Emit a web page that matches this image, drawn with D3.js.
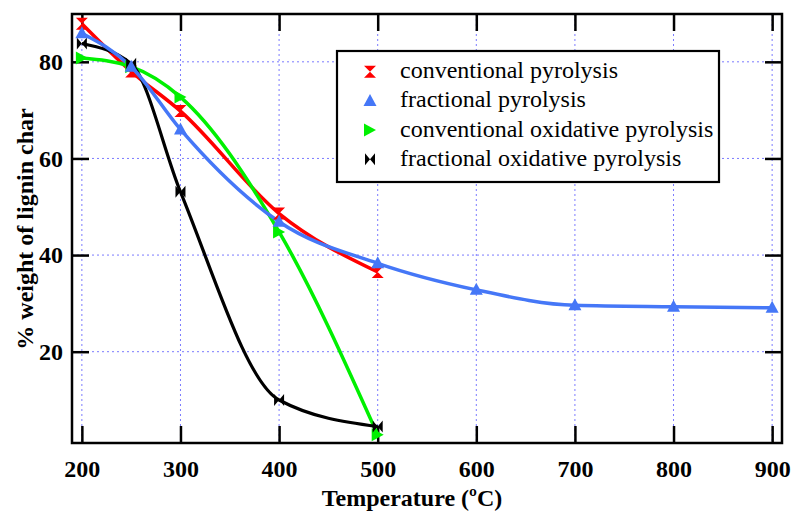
<!DOCTYPE html>
<html>
<head>
<meta charset="utf-8">
<script src="https://cdn.jsdelivr.net/npm/d3@7"></script>
<style>
  html, body { margin: 0; padding: 0; background: #fff; }
  svg { display: block; }
</style>
</head>
<body>
<svg id="chart" width="793" height="517"></svg>
<script>
// ---- data ----
const temps = [200, 250, 300, 400, 500];
const tempsFrac = [200, 250, 300, 400, 500, 600, 700, 800, 900];
const convPyro = [87.9, 78.0, 69.8, 48.6, 36.5];
const fracPyro = [85.9, 79.0, 66.0, 46.9, 38.3, 32.8, 29.6, 29.3, 29.1];
const convOxPyro = [80.8, 79.0, 72.7, 44.8, 2.8];
const fracOxPyro = [83.8, 79.6, 53.1, 10.0, 4.5];
const xTicks = [200, 300, 400, 500, 600, 700, 800, 900];
const yTicks = [20, 40, 60, 80];
const seriesNames = ["conventional pyrolysis", "fractional pyrolysis", "conventional oxidative pyrolysis", "fractional oxidative pyrolysis"];
const xTitle = "Temperature (\u00BAC)";
const yTitle = "% weight of lignin char";

const FONT = "Liberation Serif";

// ---- layout ----
const svg = d3.select("#chart");
const L = 72, R = 782, T = 14, B = 443;
const x = d3.scaleLinear().domain([190, 910]).range([L, R]);
const y = d3.scaleLinear().domain([1.1, 89.9]).range([B, T]);

const gridColor = "#7b7bff";
const grid = svg.append("g");
grid.selectAll("line.vx").data(xTicks).join("line")
  .attr("x1", d => x(d)).attr("x2", d => x(d)).attr("y1", T).attr("y2", B)
  .attr("stroke", gridColor).attr("stroke-width", 1).attr("stroke-dasharray", "2,3");
grid.selectAll("line.hy").data(yTicks).join("line")
  .attr("x1", L).attr("x2", R).attr("y1", d => y(d)).attr("y2", d => y(d))
  .attr("stroke", gridColor).attr("stroke-width", 1).attr("stroke-dasharray", "2,3");

// axes: inward ticks on all four sides
const tickLen = 17;
const axB = svg.append("g").attr("transform", `translate(0,${B})`)
  .call(d3.axisBottom(x).tickValues(xTicks).tickSizeInner(-tickLen).tickSizeOuter(0).tickPadding(17));
const axT = svg.append("g").attr("transform", `translate(0,${T})`)
  .call(d3.axisTop(x).tickValues(xTicks).tickSizeInner(-tickLen).tickSizeOuter(0).tickFormat(""));
const axL = svg.append("g").attr("transform", `translate(${L},0)`)
  .call(d3.axisLeft(y).tickValues(yTicks).tickSizeInner(-tickLen).tickSizeOuter(0).tickPadding(9));
const axR = svg.append("g").attr("transform", `translate(${R},0)`)
  .call(d3.axisRight(y).tickValues(yTicks).tickSizeInner(-tickLen).tickSizeOuter(0).tickFormat(""));
[axB, axT, axL, axR].forEach(a => {
  a.attr("font-family", null);
  a.select(".domain").remove();
  a.selectAll(".tick line").attr("stroke", "#000").attr("stroke-width", 2.5);
  a.selectAll("text").attr("fill", "#000").style("font-family", FONT)
    .attr("font-size", 24).attr("font-weight", "bold");
});

const series = [
  { name: seriesNames[0], xs: temps, ys: convPyro, color: "#ff0000", width: 3.5, marker: "hourglass" },
  { name: seriesNames[1], xs: tempsFrac, ys: fracPyro, color: "#4577f7", width: 3.5, marker: "triUp" },
  { name: seriesNames[2], xs: temps, ys: convOxPyro, color: "#00f000", width: 3.5, marker: "triRight" },
  { name: seriesNames[3], xs: temps, ys: fracOxPyro, color: "#000000", width: 3.2, marker: "bowtie" }
];
const markerPath = {
  hourglass: "M-6,-6L6,-6L-6,6L6,6Z",
  triUp: "M0,-7L6.5,5L-6.5,5Z",
  triRight: "M-6,-6.5L6,0L-6,6.5Z",
  bowtie: "M-5,-6L5,6L5,-6L-5,6Z"
};
const line = d3.line().x(d => x(d[0])).y(d => y(d[1])).curve(d3.curveMonotoneX);
const drawOrder = [0, 2, 3, 1];
const plot = svg.append("g");
drawOrder.forEach(i => {
  const s = series[i];
  const pts = s.xs.map((t, k) => [t, s.ys[k]]);
  plot.append("path").datum(pts).attr("d", line)
    .attr("fill", "none").attr("stroke", s.color).attr("stroke-width", s.width).attr("stroke-linejoin", "round");
});
drawOrder.forEach(i => {
  const s = series[i];
  const pts = s.xs.map((t, k) => [t, s.ys[k]]);
  plot.selectAll(null).data(pts).join("path")
    .attr("transform", d => `translate(${x(d[0])},${y(d[1])})`)
    .attr("d", markerPath[s.marker]).attr("fill", s.color);
});

svg.append("rect").attr("x", L).attr("y", T).attr("width", R - L).attr("height", B - T)
  .attr("fill", "none").attr("stroke", "#000").attr("stroke-width", 2.5);

// legend
const lg = svg.append("g");
lg.append("rect").attr("x", 337).attr("y", 51).attr("width", 382).attr("height", 131)
  .attr("fill", "#fff").attr("stroke", "#000").attr("stroke-width", 2.2);
series.forEach((s, i) => {
  const cy = 71.7 + i * 29.2;
  lg.append("path").attr("transform", `translate(370,${cy})`).attr("d", markerPath[s.marker]).attr("fill", s.color);
  lg.append("text").attr("x", 400).attr("y", cy + 6.5).style("font-family", FONT)
    .attr("font-size", 24).attr("fill", "#000").text(s.name);
});

// titles
svg.append("text").attr("x", 412).attr("y", 506).attr("text-anchor", "middle").style("font-family", FONT)
  .attr("font-size", 24).attr("font-weight", "bold").text(xTitle);
svg.append("text").attr("transform", "translate(33,229) rotate(-90)").attr("text-anchor", "middle").style("font-family", FONT)
  .attr("font-size", 24).attr("font-weight", "bold").text(yTitle);
</script>
</body>
</html>
